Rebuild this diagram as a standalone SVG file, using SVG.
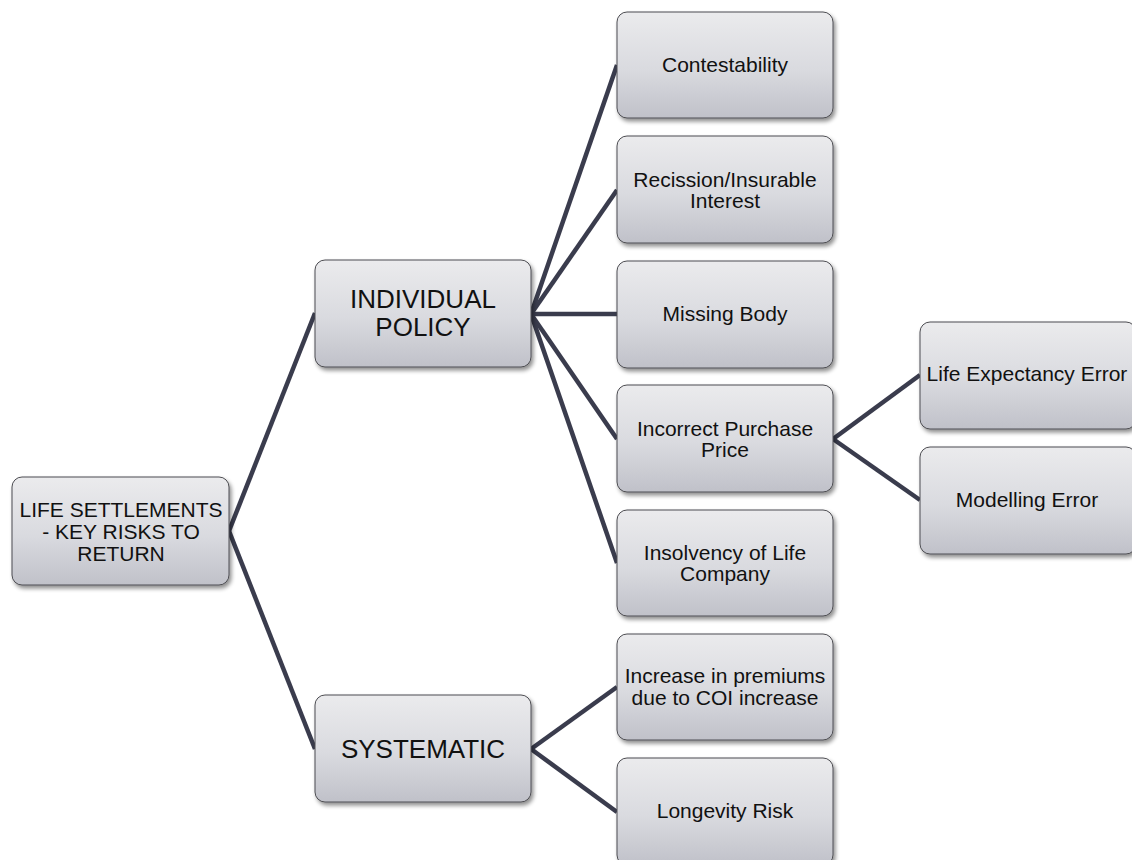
<svg xmlns="http://www.w3.org/2000/svg" width="1132" height="860" viewBox="0 0 1132 860">
  <defs>
    <linearGradient id="boxFill" x1="0" y1="0" x2="0" y2="1">
      <stop offset="0" stop-color="#ebebed"/>
      <stop offset="0.55" stop-color="#d9dadf"/>
      <stop offset="1" stop-color="#c0c1c9"/>
    </linearGradient>
    <filter id="shadow" x="-10%" y="-10%" width="125%" height="130%">
      <feGaussianBlur in="SourceAlpha" stdDeviation="2"/>
      <feOffset dx="2" dy="3" result="off"/>
      <feComponentTransfer><feFuncA type="linear" slope="0.45"/></feComponentTransfer>
      <feMerge><feMergeNode/><feMergeNode in="SourceGraphic"/></feMerge>
    </filter>
  </defs>
  <style>
    .box { fill: url(#boxFill); stroke: #4d4d52; stroke-width: 1; filter: url(#shadow); }
    .lbl { font-family: "Liberation Sans", Arial, sans-serif; fill: #111; text-anchor: middle; }
    .root { font-size: 21px; }
    .lvl1 { font-size: 26px; }
    .leaf { font-size: 21px; }
    .link { stroke: #3a3c4d; stroke-width: 4.5; fill: none; stroke-linecap: butt; }
  </style>

  <rect width="1132" height="860" fill="#ffffff"/>

  <!-- connectors -->
  <g id="connectors">
    <line class="link" x1="229" y1="531" x2="315" y2="313"/>
    <line class="link" x1="229" y1="531" x2="315" y2="749"/>
    <line class="link" x1="531" y1="314" x2="617" y2="65"/>
    <line class="link" x1="531" y1="314" x2="617" y2="190"/>
    <line class="link" x1="531" y1="314" x2="617" y2="314"/>
    <line class="link" x1="531" y1="314" x2="617" y2="439"/>
    <line class="link" x1="531" y1="314" x2="617" y2="563"/>
    <line class="link" x1="833" y1="439" x2="920" y2="375"/>
    <line class="link" x1="833" y1="439" x2="920" y2="500"/>
    <line class="link" x1="531" y1="749" x2="617" y2="687"/>
    <line class="link" x1="531" y1="749" x2="617" y2="812"/>
  </g>

  <!-- root -->
  <g id="root">
    <rect class="box" x="12" y="477" width="217" height="108" rx="10"/>
    <text class="lbl root" x="121" y="517">LIFE SETTLEMENTS</text>
    <text class="lbl root" x="121" y="539">- KEY RISKS TO</text>
    <text class="lbl root" x="121" y="561">RETURN</text>
  </g>

  <!-- first level -->
  <g id="individual-policy">
    <rect class="box" x="315" y="260" width="216" height="107" rx="10"/>
    <text class="lbl lvl1" x="423" y="308">INDIVIDUAL</text>
    <text class="lbl lvl1" x="423" y="336">POLICY</text>
  </g>
  <g id="systematic">
    <rect class="box" x="315" y="695" width="216" height="107" rx="10"/>
    <text class="lbl lvl1" x="423" y="758">SYSTEMATIC</text>
  </g>

  <!-- individual policy risks -->
  <g id="contestability">
    <rect class="box" x="617" y="12" width="216" height="106" rx="10"/>
    <text class="lbl leaf" x="725" y="72">Contestability</text>
  </g>
  <g id="recission">
    <rect class="box" x="617" y="136" width="216" height="107" rx="10"/>
    <text class="lbl leaf" x="725" y="187">Recission/Insurable</text>
    <text class="lbl leaf" x="725" y="208">Interest</text>
  </g>
  <g id="missing-body">
    <rect class="box" x="617" y="261" width="216" height="107" rx="10"/>
    <text class="lbl leaf" x="725" y="321">Missing Body</text>
  </g>
  <g id="incorrect-price">
    <rect class="box" x="617" y="385" width="216" height="107" rx="10"/>
    <text class="lbl leaf" x="725" y="436">Incorrect Purchase</text>
    <text class="lbl leaf" x="725" y="457">Price</text>
  </g>
  <g id="insolvency">
    <rect class="box" x="617" y="510" width="216" height="106" rx="10"/>
    <text class="lbl leaf" x="725" y="560">Insolvency of Life</text>
    <text class="lbl leaf" x="725" y="581">Company</text>
  </g>

  <!-- purchase price sub-risks -->
  <g id="life-expectancy">
    <rect class="box" x="920" y="322" width="216" height="107" rx="10"/>
    <text class="lbl leaf" x="1027" y="381">Life Expectancy Error</text>
  </g>
  <g id="modelling">
    <rect class="box" x="920" y="447" width="216" height="107" rx="10"/>
    <text class="lbl leaf" x="1027" y="507">Modelling Error</text>
  </g>

  <!-- systematic risks -->
  <g id="coi-increase">
    <rect class="box" x="617" y="634" width="216" height="106" rx="10"/>
    <text class="lbl leaf" x="725" y="683">Increase in premiums</text>
    <text class="lbl leaf" x="725" y="705">due to COI increase</text>
  </g>
  <g id="longevity">
    <rect class="box" x="617" y="758" width="216" height="107" rx="10"/>
    <text class="lbl leaf" x="725" y="818">Longevity Risk</text>
  </g>
</svg>
